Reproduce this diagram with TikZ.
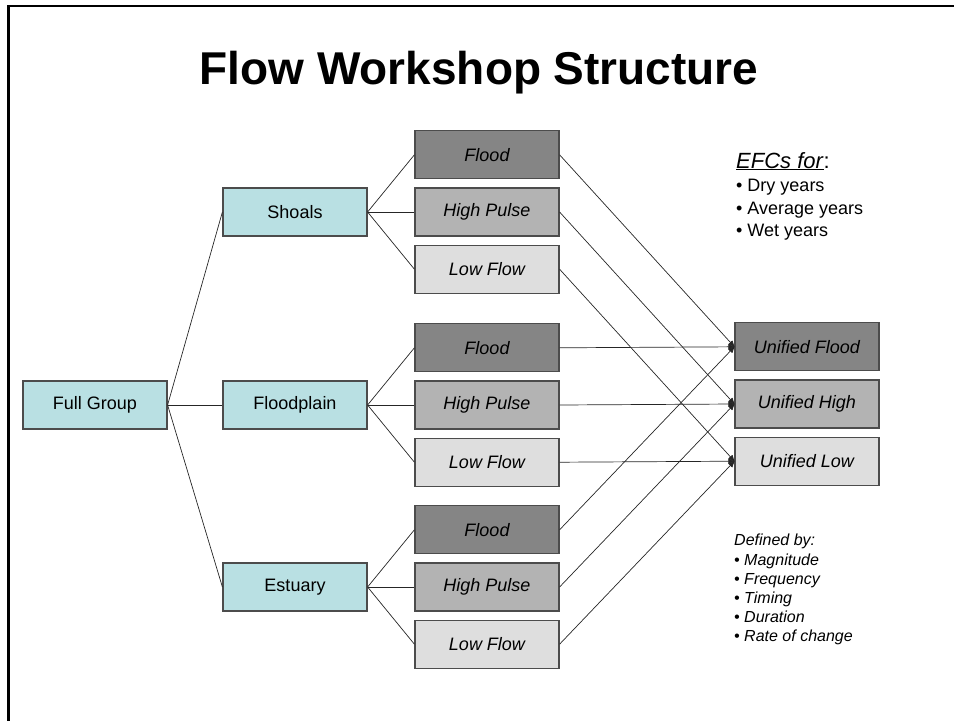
\documentclass[tikz,border=0pt]{standalone}
\usepackage{fontspec}
\setmainfont{Liberation Sans}
\usetikzlibrary{positioning,arrows.meta}

\definecolor{regionfill}{HTML}{B9E0E3}
\definecolor{floodfill}{HTML}{858585}
\definecolor{highfill}{HTML}{B3B3B3}
\definecolor{lowfill}{HTML}{DEDEDE}

\begin{document}
\begin{tikzpicture}[x=1pt,y=-1pt,node distance=8pt,
    box/.style={rectangle,draw=black!70,line width=1.2pt,minimum width=144pt,
      minimum height=48pt,inner sep=0pt,font=\fontsize{18}{21}\selectfont},
    region/.style={box,fill=regionfill},
    flood/.style={box,fill=floodfill,font=\fontsize{18}{21}\selectfont\itshape},
    high/.style={box,fill=highfill,font=\fontsize{18}{21}\selectfont\itshape},
    low/.style={box,fill=lowfill,font=\fontsize{18}{21}\selectfont\itshape},
    link/.style={black!85,line width=0.7pt},
    merge/.style={link,-{Latex[round,length=7pt,width=6pt]}}]

    \useasboundingbox (0,0) rectangle (954,721);
    \draw[line width=2.5pt] (954,6) -- (8.5,6) -- (8.5,721);

    \node[font=\fontsize{46}{50}\selectfont\bfseries,anchor=base] (title) at (479,84) {Flow Workshop Structure};

    \node[region] (full) at (95,405) {Full Group};
    \node[region] (shoals) at (295,212) {Shoals};
    \node[region] (plain) at (295,405) {Floodplain};
    \node[region] (estuary) at (295,587) {Estuary};

    % sub-boxes of each region
    \node[high] (shHigh) at (487,212) {High Pulse};
    \node[flood] (shFlood) [above=of shHigh] {Flood};
    \node[low] (shLow) [below=of shHigh] {Low Flow};

    \node[high] (fpHigh) at (487,405) {High Pulse};
    \node[flood] (fpFlood) [above=of fpHigh] {Flood};
    \node[low] (fpLow) [below=of fpHigh] {Low Flow};

    \node[high] (esHigh) at (487,587) {High Pulse};
    \node[flood] (esFlood) [above=of esHigh] {Flood};
    \node[low] (esLow) [below=of esHigh] {Low Flow};

    % unified results
    \node[high] (uniHigh) at (807,404) {Unified High};
    \node[flood] (uniFlood) [above=of uniHigh] {Unified Flood};
    \node[low] (uniLow) [below=of uniHigh] {Unified Low};

    \node[anchor=base west,inner sep=0pt,font=\fontsize{22}{26}\selectfont] (efc) at (736,168) {\underline{\textit{EFCs for}}:};
    \node[anchor=north west,inner sep=0pt,align=left,font=\fontsize{18}{22.5}\selectfont] (years) at (736,179)
      {• Dry years\\• Average years\\• Wet years};
    \node[anchor=north west,inner sep=0pt,align=left,font=\fontsize{16}{19.2}\selectfont\itshape] (defined) at (734,534)
      {Defined by:\\• Magnitude\\• Frequency\\• Timing\\• Duration\\• Rate of change};

    \draw[link] (full.east) to (shoals.west);
    \draw[link] (full.east) to (plain.west);
    \draw[link] (full.east) to (estuary.west);

    \draw[link] (shoals.east) to (shFlood.west);
    \draw[link] (shoals.east) to (shHigh.west);
    \draw[link] (shoals.east) to (shLow.west);
    \draw[link] (plain.east) to (fpFlood.west);
    \draw[link] (plain.east) to (fpHigh.west);
    \draw[link] (plain.east) to (fpLow.west);
    \draw[link] (estuary.east) to (esFlood.west);
    \draw[link] (estuary.east) to (esHigh.west);
    \draw[link] (estuary.east) to (esLow.west);

    \draw[merge] (shFlood.east) to (uniFlood.west);
    \draw[merge] (fpFlood.east) to (uniFlood.west);
    \draw[merge] (esFlood.east) to (uniFlood.west);
    \draw[merge] (shHigh.east) to (uniHigh.west);
    \draw[merge] (fpHigh.east) to (uniHigh.west);
    \draw[merge] (esHigh.east) to (uniHigh.west);
    \draw[merge] (shLow.east) to (uniLow.west);
    \draw[merge] (fpLow.east) to (uniLow.west);
    \draw[merge] (esLow.east) to (uniLow.west);
\end{tikzpicture}
\end{document}
